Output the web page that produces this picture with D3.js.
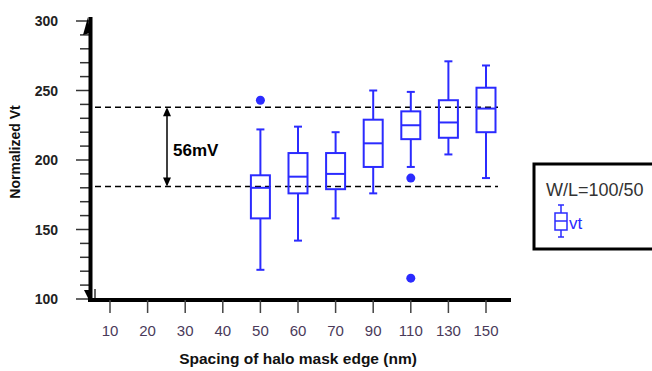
<!DOCTYPE html>
<html>
<head>
<meta charset="utf-8">
<script src="https://cdn.jsdelivr.net/npm/d3@7"></script>
<style>
  body { margin: 0; background: #fff; }
  text { font-family: Arial, "Liberation Sans", sans-serif; }
</style>
</head>
<body>
<svg id="chart" width="652" height="371"></svg>
<script>
// tick labels on the x axis (category positions)
var xCats = ["10", "20", "30", "40", "50", "60", "70", "90", "110", "130", "150"];
// box plot categories and stats
var boxCats = ["50", "60", "70", "90", "110", "130", "150"];
var whiskLo = [121, 142, 158, 176, 195, 204, 187];
var q1      = [158, 176, 179, 195, 215, 216, 220];
var median  = [180, 188, 190, 212, 225, 227, 237];
var q3      = [189, 205, 205, 229, 235, 243, 252];
var whiskHi = [222, 224, 220, 250, 249, 271, 268];
var outlierCat = ["50", "110", "110"];
var outlierVal = [243, 187, 115];
// reference lines
var refLines = [238, 181];
var yTicks = [100, 150, 200, 250, 300];

var svg = d3.select("#chart");
var blue = "#2b2bff";

var x = d3.scalePoint().domain(xCats).range([110, 486]);
var y = d3.scaleLinear().domain([100, 300]).range([299, 21]);

//////// dashed reference lines
svg.selectAll(".ref").data(refLines).enter().append("line")
  .attr("x1", 95).attr("x2", 498)
  .attr("y1", d => y(d)).attr("y2", d => y(d))
  .attr("stroke", "#000").attr("stroke-width", 1.5)
  .attr("stroke-dasharray", "6,4");

//////// y axis
var yMinor = d3.range(100, 301, 10);
svg.selectAll(".ymin").data(yMinor).enter().append("line")
  .attr("x1", d => yTicks.includes(d) ? 76 : 80).attr("x2", 90)
  .attr("y1", d => y(d)).attr("y2", d => y(d))
  .attr("stroke", "#333").attr("stroke-width", 1.5);

svg.selectAll(".ylab").data(yTicks).enter().append("text")
  .attr("x", 58).attr("y", d => y(d) + 5)
  .attr("text-anchor", "end")
  .style("font-size", "14px").style("font-weight", "bold").attr("fill", "#222")
  .text(d => d);

svg.append("line").attr("x1", 90.5).attr("x2", 90.5).attr("y1", 17).attr("y2", 302)
  .attr("stroke", "#000").attr("stroke-width", 4);
// arrow heads
svg.append("path").attr("d", "M88,17 L83,35 L90,33 Z").attr("fill", "#000");
svg.append("path").attr("d", "M84,290 L90,302 L92,290 Z").attr("fill", "#000");
svg.append("line").attr("x1", 95).attr("x2", 95).attr("y1", 289).attr("y2", 298)
  .attr("stroke", "#000").attr("stroke-width", 1.2);

svg.append("text")
  .attr("transform", "translate(20,152) rotate(-90)")
  .attr("text-anchor", "middle")
  .style("font-size", "14px").style("font-weight", "bold").attr("fill", "#111")
  .text("Normalized Vt");

//////// x axis
svg.append("line").attr("x1", 88).attr("x2", 511).attr("y1", 300).attr("y2", 300)
  .attr("stroke", "#000").attr("stroke-width", 4);
svg.selectAll(".xt").data(xCats).enter().append("line")
  .attr("x1", d => x(d)).attr("x2", d => x(d))
  .attr("y1", 300).attr("y2", 313)
  .attr("stroke", "#444").attr("stroke-width", 1.5);
svg.selectAll(".xlab").data(xCats).enter().append("text")
  .attr("x", d => x(d)).attr("y", 336)
  .attr("text-anchor", "middle")
  .style("font-size", "15px").attr("fill", "#4a3a5a")
  .text(d => d);
svg.append("text").attr("x", 298).attr("y", 364)
  .attr("text-anchor", "middle")
  .style("font-size", "15.5px").style("font-weight", "bold").attr("fill", "#111")
  .text("Spacing of halo mask edge (nm)");

//////// boxes
var bw = 19, cap = 8;
var g = svg.selectAll(".box").data(boxCats).enter().append("g")
  .attr("transform", d => "translate(" + x(d) + ",0)");
g.append("line").attr("x1", 0).attr("x2", 0)
  .attr("y1", (d, i) => y(whiskHi[i])).attr("y2", (d, i) => y(q3[i]))
  .attr("stroke", blue).attr("stroke-width", 2);
g.append("line").attr("x1", 0).attr("x2", 0)
  .attr("y1", (d, i) => y(q1[i])).attr("y2", (d, i) => y(whiskLo[i]))
  .attr("stroke", blue).attr("stroke-width", 2);
g.append("line").attr("x1", -cap / 2).attr("x2", cap / 2)
  .attr("y1", (d, i) => y(whiskHi[i])).attr("y2", (d, i) => y(whiskHi[i]))
  .attr("stroke", blue).attr("stroke-width", 2);
g.append("line").attr("x1", -cap / 2).attr("x2", cap / 2)
  .attr("y1", (d, i) => y(whiskLo[i])).attr("y2", (d, i) => y(whiskLo[i]))
  .attr("stroke", blue).attr("stroke-width", 2);
g.append("rect").attr("x", -bw / 2).attr("width", bw)
  .attr("y", (d, i) => y(q3[i])).attr("height", (d, i) => y(q1[i]) - y(q3[i]))
  .attr("fill", "none").attr("stroke", blue).attr("stroke-width", 2);
g.append("line").attr("x1", -bw / 2).attr("x2", bw / 2)
  .attr("y1", (d, i) => y(median[i])).attr("y2", (d, i) => y(median[i]))
  .attr("stroke", blue).attr("stroke-width", 2);

svg.selectAll(".out").data(outlierVal).enter().append("circle")
  .attr("cx", (d, i) => x(outlierCat[i])).attr("cy", d => y(d))
  .attr("r", 4.5).attr("fill", blue);

//////// 56mV annotation
var ax = 167;
svg.append("line").attr("x1", ax).attr("x2", ax)
  .attr("y1", y(refLines[0]) + 2).attr("y2", y(refLines[1]) - 2)
  .attr("stroke", "#000").attr("stroke-width", 1.5);
svg.append("path").attr("d", "M" + ax + "," + y(refLines[0]) + " l-4,9 l8,0 Z").attr("fill", "#000");
svg.append("path").attr("d", "M" + ax + "," + y(refLines[1]) + " l-4,-9 l8,0 Z").attr("fill", "#000");
svg.append("text").attr("x", 173).attr("y", 156)
  .style("font-size", "17px").style("font-weight", "bold").attr("fill", "#000")
  .text("56mV");

//////// legend
svg.append("rect").attr("x", 534).attr("y", 164).attr("width", 130).attr("height", 85)
  .attr("fill", "#fff").attr("stroke", "#000").attr("stroke-width", 3);
svg.append("text").attr("x", 546).attr("y", 196)
  .style("font-size", "18px").attr("fill", "#333")
  .text("W/L=100/50");
var lg = svg.append("g").attr("transform", "translate(561,0)");
lg.append("line").attr("x1", 0).attr("x2", 0).attr("y1", 205).attr("y2", 237).attr("stroke", blue).attr("stroke-width", 1.5);
lg.append("line").attr("x1", -3).attr("x2", 3).attr("y1", 205).attr("y2", 205).attr("stroke", blue).attr("stroke-width", 1.5);
lg.append("line").attr("x1", -3).attr("x2", 3).attr("y1", 237).attr("y2", 237).attr("stroke", blue).attr("stroke-width", 1.5);
lg.append("rect").attr("x", -6).attr("y", 213).attr("width", 12).attr("height", 17)
  .attr("fill", "#fff").attr("stroke", blue).attr("stroke-width", 1.5);
lg.append("line").attr("x1", -6).attr("x2", 6).attr("y1", 221).attr("y2", 221).attr("stroke", blue).attr("stroke-width", 1.5);
svg.append("text").attr("x", 569).attr("y", 229)
  .style("font-size", "17px").attr("fill", blue)
  .text("vt");
</script>
</body>
</html>
